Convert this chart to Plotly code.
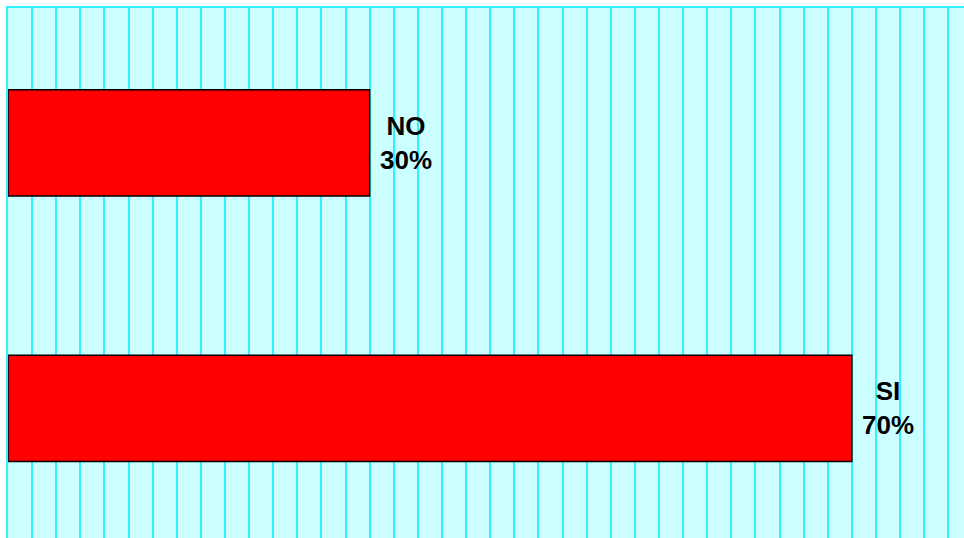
"""Horizontal bar chart: SI / NO answer share."""

import plotly.graph_objects as go

CATEGORIES = ["SI", "NO"]
PERCENTAGES = [70, 30]

BAR_COLOR = "#FF0000"
PLOT_BG = "#CCFFFF"
GRID_COLOR = "#33F0FF"

fig = go.Figure()
fig.add_trace(
    go.Bar(
        x=PERCENTAGES,
        y=CATEGORIES,
        orientation="h",
        width=0.4,
        marker=dict(color=BAR_COLOR, line=dict(color="black", width=1.5)),
        hoverinfo="skip",
    )
)

# labels sit just right of each bar end, two centred lines
for cat, pct in zip(CATEGORIES, PERCENTAGES):
    fig.add_annotation(
        x=pct,
        y=cat,
        text=f"<b>{cat}<br>{pct}%</b>",
        showarrow=False,
        xanchor="left",
        yanchor="middle",
        xshift=8,
        align="center",
        font=dict(family="Liberation Sans, Arial, sans-serif", size=26, color="black"),
    )

fig.update_layout(
    width=964,
    height=538,
    autosize=False,
    margin=dict(l=8, r=0, t=8, b=0),
    paper_bgcolor="white",
    plot_bgcolor=PLOT_BG,
    showlegend=False,
    xaxis=dict(
        side="top",
        range=[0, 79.3],
        dtick=2,
        showgrid=True,
        gridcolor=GRID_COLOR,
        gridwidth=1.5,
        showticklabels=False,
        ticks="",
        zeroline=False,
        showline=True,
        linecolor=GRID_COLOR,
        linewidth=2,
    ),
    yaxis=dict(
        range=[-0.488, 1.508],
        showgrid=False,
        showticklabels=False,
        ticks="",
        zeroline=False,
        showline=True,
        linecolor=GRID_COLOR,
        linewidth=2,
    ),
)

# no page margin / scrollbars so the plot area runs to the window edges
fig.write_html(
    "out.html",
    config={"displayModeBar": False},
    post_script="document.body.style.margin='0';document.body.style.overflow='hidden';",
)
